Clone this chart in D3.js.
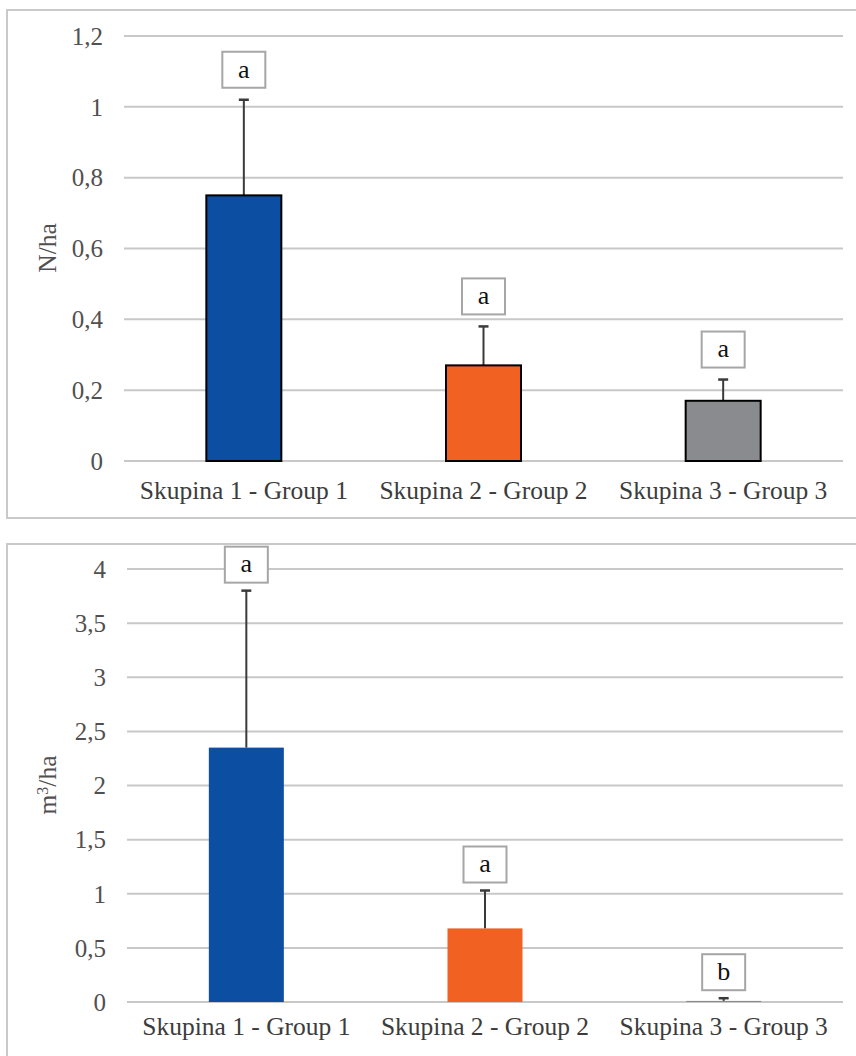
<!DOCTYPE html>
<html>
<head>
<meta charset="utf-8">
<script src="https://cdn.jsdelivr.net/npm/d3@7"></script>
<style>
  body { margin: 0; background: #fff; }
  text { font-family: "Liberation Serif", "Times New Roman", serif; }
</style>
</head>
<body>
<div class="charts"></div>
<script>
var categories = ["Skupina 1 - Group 1", "Skupina 2 - Group 2", "Skupina 3 - Group 3"];

// top panel: N/ha
var densityMeans = [0.75, 0.27, 0.17];
var densityErrors = [0.27, 0.11, 0.06];
var densityLetters = ["a", "a", "a"];
var densityTicks = [0, 0.2, 0.4, 0.6, 0.8, 1, 1.2];

// bottom panel: m3/ha
var volumeMeans = [2.35, 0.68, 0.01];
var volumeErrors = [1.45, 0.35, 0.025];
var volumeLetters = ["a", "a", "b"];
var volumeTicks = [0, 0.5, 1, 1.5, 2, 2.5, 3, 3.5, 4];

var colors = ["#0b4ea2", "#f16122", "#898b8e"];

var width = 856, height = 1056;
var svg = d3.select(".charts").append("svg")
    .attr("width", width)
    .attr("height", height);

function fmt(v) { return String(v).replace(".", ","); }

function panel(opt) {
  var g = svg.append("g");

  // outer frame
  g.append("rect")
      .attr("x", opt.frame[0]).attr("y", opt.frame[1])
      .attr("width", opt.frame[2]).attr("height", opt.frame[3])
      .attr("fill", "none")
      .attr("stroke", "#c9c9c9")
      .attr("stroke-width", 2);

  var x = d3.scaleBand().domain(categories).range([opt.left, opt.right]);
  var y = d3.scaleLinear().domain([0, d3.max(opt.ticks)]).range([opt.bottom, opt.top]);
  var bw = 75;

  g.selectAll(".grid")
    .data(opt.ticks)
    .enter().append("line")
      .attr("x1", opt.left).attr("x2", opt.right)
      .attr("y1", function(d) { return y(d); })
      .attr("y2", function(d) { return y(d); })
      .attr("stroke", "#c8c8c8")
      .attr("stroke-width", 2);

  g.selectAll(".tick")
    .data(opt.ticks)
    .enter().append("text")
      .attr("x", opt.left - 21)
      .attr("y", function(d) { return y(d); })
      .attr("dy", "0.35em")
      .attr("text-anchor", "end")
      .attr("font-size", 25)
      .attr("fill", "#505050")
      .text(fmt);

  g.append("text")
      .attr("transform", "translate(" + 47 + "," + opt.titleY + ") rotate(-90)")
      .attr("dy", "0.35em")
      .attr("text-anchor", "middle")
      .attr("font-size", 25.5)
      .attr("fill", "#505050")
      .html(opt.title);

  g.selectAll(".cat")
    .data(categories)
    .enter().append("text")
      .attr("x", function(d) { return x(d) + x.bandwidth() / 2; })
      .attr("y", opt.bottom + opt.labelOffset)
      .attr("text-anchor", "middle")
      .attr("font-size", 25.5)
      .attr("fill", "#3c3c3c")
      .text(function(d) { return d; });

  var rows = categories.map(function(c, i) {
    return { cat: c, mean: opt.means[i], err: opt.errors[i], letter: opt.letters[i], color: colors[i] };
  });

  // error bars (upper only)
  var eb = g.selectAll(".err").data(rows).enter().append("g");
  eb.append("line")
      .attr("x1", function(d) { return x(d.cat) + x.bandwidth() / 2; })
      .attr("x2", function(d) { return x(d.cat) + x.bandwidth() / 2; })
      .attr("y1", function(d) { return y(d.mean); })
      .attr("y2", function(d) { return y(d.mean + d.err); })
      .attr("stroke", "#3a3a3a")
      .attr("stroke-width", 2);
  eb.append("line")
      .attr("x1", function(d) { return x(d.cat) + x.bandwidth() / 2 - 5; })
      .attr("x2", function(d) { return x(d.cat) + x.bandwidth() / 2 + 5; })
      .attr("y1", function(d) { return y(d.mean + d.err); })
      .attr("y2", function(d) { return y(d.mean + d.err); })
      .attr("stroke", "#3a3a3a")
      .attr("stroke-width", 2.5);

  g.selectAll(".bar")
    .data(rows)
    .enter().append("rect")
      .attr("x", function(d) { return x(d.cat) + x.bandwidth() / 2 - bw / 2; })
      .attr("y", function(d) { return y(d.mean); })
      .attr("width", bw)
      .attr("height", function(d) { return y(0) - y(d.mean); })
      .attr("fill", function(d) { return d.color; })
      .attr("stroke", opt.barStroke)
      .attr("stroke-width", 2);

  // significance letters
  var lb = g.selectAll(".lab").data(rows).enter().append("g")
      .attr("transform", function(d) {
        return "translate(" + (x(d.cat) + x.bandwidth() / 2) + "," + (y(d.mean + d.err) - opt.gap - 18) + ")";
      });
  lb.append("rect")
      .attr("x", -21.5).attr("y", -18)
      .attr("width", 43).attr("height", 36)
      .attr("fill", "#fff")
      .attr("stroke", "#a6a6a6")
      .attr("stroke-width", 2);
  lb.append("text")
      .attr("dy", "0.3em")
      .attr("text-anchor", "middle")
      .attr("font-size", 26)
      .attr("fill", "#111")
      .text(function(d) { return d.letter; });
}

panel({
  frame: [7, 10, 860, 508],
  left: 124, right: 843, top: 36, bottom: 461,
  ticks: densityTicks, means: densityMeans, errors: densityErrors, letters: densityLetters,
  title: "N/ha", titleY: 248, labelOffset: 38, gap: 12, barStroke: "#000"
});

panel({
  frame: [7, 544, 860, 540],
  left: 127, right: 843, top: 569, bottom: 1002,
  ticks: volumeTicks, means: volumeMeans, errors: volumeErrors, letters: volumeLetters,
  title: "m<tspan baseline-shift='super' font-size='16'>3</tspan>/ha", titleY: 785, labelOffset: 33, gap: 8, barStroke: "none"
});
</script>
</body>
</html>
